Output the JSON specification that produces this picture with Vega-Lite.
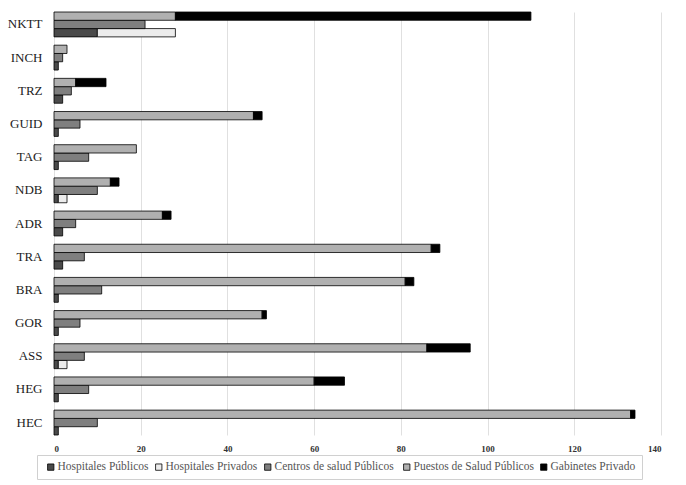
{
  "$schema": "https://vega.github.io/schema/vega-lite/v6.json",
  "autosize": {"type": "none"},
  "width": 607,
  "height": 423,
  "padding": {"left": 54, "top": 12, "right": 25, "bottom": 50},
  "background": "white",
  "data": {
    "values": [
      {"region": "NKTT", "tipo": "Hospitales Públicos", "fila": "c", "orden": 1, "valor": 10},
      {"region": "NKTT", "tipo": "Hospitales Privados", "fila": "c", "orden": 2, "valor": 18},
      {"region": "NKTT", "tipo": "Centros de salud  Públicos", "fila": "b", "orden": 3, "valor": 21},
      {"region": "NKTT", "tipo": "Puestos de Salud Públicos", "fila": "a", "orden": 4, "valor": 28},
      {"region": "NKTT", "tipo": "Gabinetes Privado", "fila": "a", "orden": 5, "valor": 82},
      {"region": "INCH", "tipo": "Hospitales Públicos", "fila": "c", "orden": 1, "valor": 1},
      {"region": "INCH", "tipo": "Centros de salud  Públicos", "fila": "b", "orden": 3, "valor": 2},
      {"region": "INCH", "tipo": "Puestos de Salud Públicos", "fila": "a", "orden": 4, "valor": 3},
      {"region": "TRZ", "tipo": "Hospitales Públicos", "fila": "c", "orden": 1, "valor": 2},
      {"region": "TRZ", "tipo": "Centros de salud  Públicos", "fila": "b", "orden": 3, "valor": 4},
      {"region": "TRZ", "tipo": "Puestos de Salud Públicos", "fila": "a", "orden": 4, "valor": 5},
      {"region": "TRZ", "tipo": "Gabinetes Privado", "fila": "a", "orden": 5, "valor": 7},
      {"region": "GUID", "tipo": "Hospitales Públicos", "fila": "c", "orden": 1, "valor": 1},
      {"region": "GUID", "tipo": "Centros de salud  Públicos", "fila": "b", "orden": 3, "valor": 6},
      {"region": "GUID", "tipo": "Puestos de Salud Públicos", "fila": "a", "orden": 4, "valor": 46},
      {"region": "GUID", "tipo": "Gabinetes Privado", "fila": "a", "orden": 5, "valor": 2},
      {"region": "TAG", "tipo": "Hospitales Públicos", "fila": "c", "orden": 1, "valor": 1},
      {"region": "TAG", "tipo": "Centros de salud  Públicos", "fila": "b", "orden": 3, "valor": 8},
      {"region": "TAG", "tipo": "Puestos de Salud Públicos", "fila": "a", "orden": 4, "valor": 19},
      {"region": "NDB", "tipo": "Hospitales Públicos", "fila": "c", "orden": 1, "valor": 1},
      {"region": "NDB", "tipo": "Hospitales Privados", "fila": "c", "orden": 2, "valor": 2},
      {"region": "NDB", "tipo": "Centros de salud  Públicos", "fila": "b", "orden": 3, "valor": 10},
      {"region": "NDB", "tipo": "Puestos de Salud Públicos", "fila": "a", "orden": 4, "valor": 13},
      {"region": "NDB", "tipo": "Gabinetes Privado", "fila": "a", "orden": 5, "valor": 2},
      {"region": "ADR", "tipo": "Hospitales Públicos", "fila": "c", "orden": 1, "valor": 2},
      {"region": "ADR", "tipo": "Centros de salud  Públicos", "fila": "b", "orden": 3, "valor": 5},
      {"region": "ADR", "tipo": "Puestos de Salud Públicos", "fila": "a", "orden": 4, "valor": 25},
      {"region": "ADR", "tipo": "Gabinetes Privado", "fila": "a", "orden": 5, "valor": 2},
      {"region": "TRA", "tipo": "Hospitales Públicos", "fila": "c", "orden": 1, "valor": 2},
      {"region": "TRA", "tipo": "Centros de salud  Públicos", "fila": "b", "orden": 3, "valor": 7},
      {"region": "TRA", "tipo": "Puestos de Salud Públicos", "fila": "a", "orden": 4, "valor": 87},
      {"region": "TRA", "tipo": "Gabinetes Privado", "fila": "a", "orden": 5, "valor": 2},
      {"region": "BRA", "tipo": "Hospitales Públicos", "fila": "c", "orden": 1, "valor": 1},
      {"region": "BRA", "tipo": "Centros de salud  Públicos", "fila": "b", "orden": 3, "valor": 11},
      {"region": "BRA", "tipo": "Puestos de Salud Públicos", "fila": "a", "orden": 4, "valor": 81},
      {"region": "BRA", "tipo": "Gabinetes Privado", "fila": "a", "orden": 5, "valor": 2},
      {"region": "GOR", "tipo": "Hospitales Públicos", "fila": "c", "orden": 1, "valor": 1},
      {"region": "GOR", "tipo": "Centros de salud  Públicos", "fila": "b", "orden": 3, "valor": 6},
      {"region": "GOR", "tipo": "Puestos de Salud Públicos", "fila": "a", "orden": 4, "valor": 48},
      {"region": "GOR", "tipo": "Gabinetes Privado", "fila": "a", "orden": 5, "valor": 1},
      {"region": "ASS", "tipo": "Hospitales Públicos", "fila": "c", "orden": 1, "valor": 1},
      {"region": "ASS", "tipo": "Hospitales Privados", "fila": "c", "orden": 2, "valor": 2},
      {"region": "ASS", "tipo": "Centros de salud  Públicos", "fila": "b", "orden": 3, "valor": 7},
      {"region": "ASS", "tipo": "Puestos de Salud Públicos", "fila": "a", "orden": 4, "valor": 86},
      {"region": "ASS", "tipo": "Gabinetes Privado", "fila": "a", "orden": 5, "valor": 10},
      {"region": "HEG", "tipo": "Hospitales Públicos", "fila": "c", "orden": 1, "valor": 1},
      {"region": "HEG", "tipo": "Centros de salud  Públicos", "fila": "b", "orden": 3, "valor": 8},
      {"region": "HEG", "tipo": "Puestos de Salud Públicos", "fila": "a", "orden": 4, "valor": 60},
      {"region": "HEG", "tipo": "Gabinetes Privado", "fila": "a", "orden": 5, "valor": 7},
      {"region": "HEC", "tipo": "Hospitales Públicos", "fila": "c", "orden": 1, "valor": 1},
      {"region": "HEC", "tipo": "Centros de salud  Públicos", "fila": "b", "orden": 3, "valor": 10},
      {"region": "HEC", "tipo": "Puestos de Salud Públicos", "fila": "a", "orden": 4, "valor": 133},
      {"region": "HEC", "tipo": "Gabinetes Privado", "fila": "a", "orden": 5, "valor": 1}
    ]
  },
  "transform": [
    {"stack": "valor", "groupby": ["region", "fila"], "sort": [{"field": "orden", "order": "ascending"}], "as": ["x0", "x1"]}
  ],
  "mark": {"type": "bar", "stroke": "#000000", "strokeWidth": 0.8},
  "encoding": {
    "y": {
      "field": "region",
      "type": "nominal",
      "sort": ["NKTT", "INCH", "TRZ", "GUID", "TAG", "NDB", "ADR", "TRA", "BRA", "GOR", "ASS", "HEG", "HEC"],
      "scale": {"paddingInner": 0.25, "paddingOuter": 0},
      "axis": {
        "title": null,
        "domain": false,
        "ticks": false,
        "labelFont": "Liberation Serif",
        "labelFontSize": 13,
        "labelColor": "#222222",
        "labelPadding": 12
      }
    },
    "yOffset": {
      "field": "fila",
      "type": "nominal",
      "sort": ["a", "b", "c"],
      "scale": {"paddingInner": 0, "paddingOuter": 0}
    },
    "x": {
      "field": "x0",
      "type": "quantitative",
      "scale": {"domain": [0, 140], "nice": false},
      "axis": {
        "title": null,
        "values": [0, 20, 40, 60, 80, 100, 120, 140],
        "domain": false,
        "ticks": false,
        "grid": true,
        "gridColor": "#e0e0e0",
        "gridWidth": 1,
        "labelFont": "Liberation Serif",
        "labelFontSize": 9,
        "labelFontWeight": "bold",
        "labelColor": "#333333",
        "labelPadding": 9
      }
    },
    "x2": {"field": "x1"},
    "color": {
      "field": "tipo",
      "type": "nominal",
      "sort": ["Hospitales Públicos", "Hospitales Privados", "Centros de salud  Públicos", "Puestos de Salud Públicos", "Gabinetes Privado"],
      "scale": {
        "domain": ["Hospitales Públicos", "Hospitales Privados", "Centros de salud  Públicos", "Puestos de Salud Públicos", "Gabinetes Privado"],
        "range": ["#4a4a4a", "#ececec", "#7f7f7f", "#b0b0b0", "#000000"]
      },
      "legend": {
        "title": null,
        "orient": "none",
        "direction": "horizontal",
        "legendX": -17,
        "legendY": 443,
        "padding": 6,
        "strokeColor": "#d0d0d0",
        "symbolType": "square",
        "symbolSize": 40,
        "symbolStrokeColor": "#000000",
        "symbolStrokeWidth": 0.8,
        "symbolOffset": 2,
        "labelFont": "Liberation Serif",
        "labelFontSize": 11.5,
        "labelColor": "#555555",
        "labelOffset": 1,
        "columnPadding": 2,
        "labelLimit": 300
      }
    }
  },
  "config": {
    "font": "Liberation Serif",
    "view": {"stroke": null}
  }
}
